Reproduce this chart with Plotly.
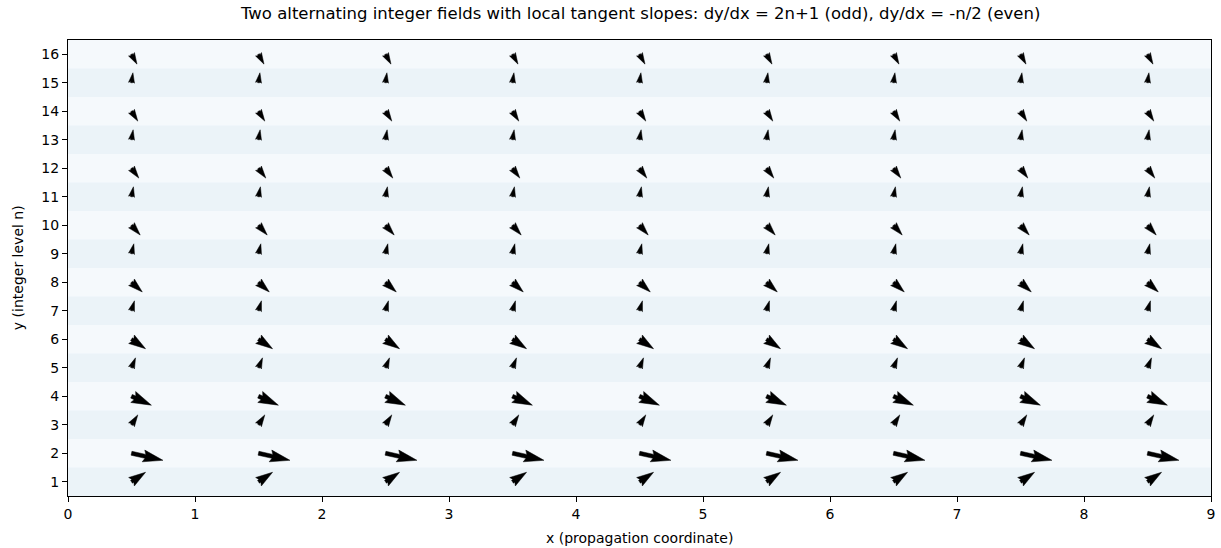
import numpy as np
import plotly.graph_objects as go

# ---- data ----
x_positions = [0.5, 1.5, 2.5, 3.5, 4.5, 5.5, 6.5, 7.5, 8.5]
odd_levels = [1, 3, 5, 7, 9, 11, 13, 15]
odd_slopes = [3, 7, 11, 15, 19, 23, 27, 31]          # dy/dx = 2n+1
even_levels = [2, 4, 6, 8, 10, 12, 14, 16]
even_slopes = [-1, -2, -3, -4, -5, -6, -7, -8]       # dy/dx = -n/2
x_ticks = [0, 1, 2, 3, 4, 5, 6, 7, 8, 9]
y_ticks = list(range(1, 17))

# ---- layout geometry ----
W, H = 1221, 548
ML, MR, MT, MB = 68, 6, 40, 52
XR = [0, 9]
YR = [0.5, 16.5]
pw = W - ML - MR
ph = H - MT - MB
sx = pw / (XR[1] - XR[0])   # px per x unit
sy = ph / (YR[1] - YR[0])   # px per y unit

ARROW_LEN = 0.35   # data-units length of normalized tangent vectors
SHAFT = 4.0        # shaft width, px
HEADW, HEADL, HEADAL = 3.0, 5.0, 4.5


def arrow_poly(length):
    """matplotlib-style quiver arrow outline, in shaft-width units."""
    minsh = HEADL
    if length >= minsh:
        x = np.array([0, -HEADAL, -HEADL, 0]) + np.array([0, 1, 1, 1]) * length
        y = 0.5 * np.array([1, 1, HEADW, 0])
    else:
        shrink = length / minsh
        x = shrink * np.array([0, minsh - HEADAL, minsh - HEADL, minsh])
        y = shrink * 0.5 * np.array([1, 1, HEADW, 0])
    ii = [0, 1, 2, 3, 2, 1, 0, 0]
    X = x[ii].astype(float)
    Y = y[ii].astype(float)
    Y[3:-1] *= -1
    return X, Y


px_all, py_all = [], []
levels = list(odd_levels) + list(even_levels)
slopes = list(odd_slopes) + list(even_slopes)

for n, s in zip(levels, slopes):
    norm = np.hypot(1.0, s)
    u = ARROW_LEN / norm
    v = ARROW_LEN * s / norm
    for x0 in x_positions:
        dxp, dyp = u * sx, v * sy
        lpx = np.hypot(dxp, dyp)
        ang = np.arctan2(dyp, dxp)
        X, Y = arrow_poly(lpx / SHAFT)
        X *= SHAFT; Y *= SHAFT
        Xr = X * np.cos(ang) - Y * np.sin(ang)
        Yr = X * np.sin(ang) + Y * np.cos(ang)
        px_all.extend(list(x0 + Xr / sx) + [None])
        py_all.extend(list(n + Yr / sy) + [None])

fig = go.Figure()
fig.add_trace(go.Scatter(
    x=px_all, y=py_all, mode="lines", fill="toself",
    fillcolor="black", line=dict(color="black", width=0.5),
    hoverinfo="skip", showlegend=False,
))

shapes = []
for n in y_ticks:
    alpha = 0.09 if n % 2 == 1 else 0.045
    shapes.append(dict(
        type="rect", xref="paper", yref="y", x0=0, x1=1,
        y0=n - 0.5, y1=n + 0.5, layer="below", line=dict(width=0),
        fillcolor=f"rgba(31,119,180,{alpha})",
    ))

font = "DejaVu Sans, sans-serif"
axis_common = dict(
    showgrid=False, zeroline=False, showline=True, mirror=True,
    linecolor="black", linewidth=1, ticks="outside", ticklen=5,
    tickwidth=1, tickcolor="black", tickfont=dict(size=14, color="black", family=font),
)

fig.update_layout(
    width=W, height=H,
    margin=dict(l=ML, r=MR, t=MT, b=MB),
    paper_bgcolor="white", plot_bgcolor="white",
    shapes=shapes,
    font=dict(family=font, color="black"),
    xaxis=dict(range=XR, tickmode="array", tickvals=x_ticks, **axis_common),
    yaxis=dict(range=YR, tickmode="array", tickvals=y_ticks, **axis_common),
    annotations=[
        dict(text="Two alternating integer fields with local tangent slopes: dy/dx = 2n+1 (odd), dy/dx = -n/2 (even)",
             xref="paper", yref="paper", x=0.5, y=1 + (MT - 14) / ph,
             xanchor="center", yanchor="middle", showarrow=False,
             font=dict(size=16.5, family=font, color="black")),
        dict(text="x (propagation coordinate)", xref="paper", yref="paper",
             x=0.5, y=-(538 - (H - MB)) / ph, xanchor="center", yanchor="middle",
             showarrow=False, font=dict(size=14, family=font, color="black")),
        dict(text="y (integer level n)", xref="paper", yref="paper",
             x=-(ML - 18) / pw, y=0.5, xanchor="center", yanchor="middle",
             textangle=-90, showarrow=False,
             font=dict(size=14, family=font, color="black")),
    ],
)

fig.write_html(
    "out.html",
    config={"displayModeBar": False},
    post_script="document.body.style.margin='0';document.body.style.overflow='hidden';",
)
